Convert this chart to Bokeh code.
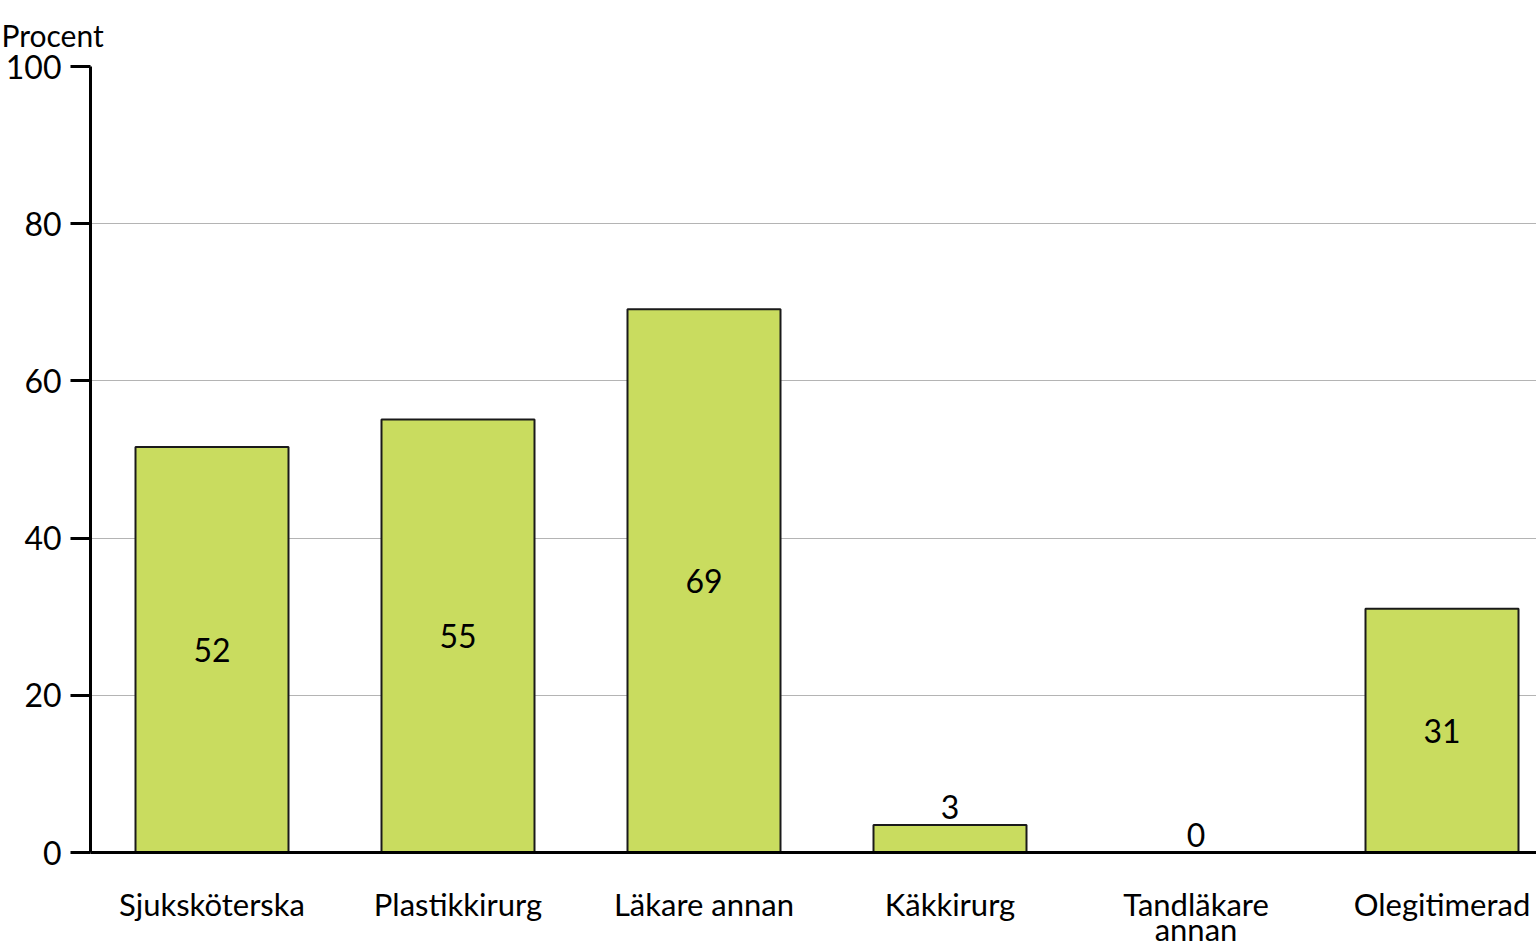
from bokeh.plotting import figure
from bokeh.models import ColumnDataSource, Range1d, FixedTicker
from bokeh.core.properties import value
from bokeh.embed import file_html
from bokeh.resources import INLINE

# data
categories = ["Sjuksköterska", "Plastikkirurg", "Läkare annan", "Käkkirurg",
              "Tandläkare\nannan", "Olegitimerad"]
values = [51.6, 55.1, 69.1, 3.5, 0.0, 31.0]
value_labels = ["52", "55", "69", "3", "0", "31"]
y_ticks = [0, 20, 40, 60, 80, 100]

FONT = "Lato"
BAR_COLOR = "#c9dc5f"

# category slots 0.5, 1.5, ... (the last slot is cut at the right edge)
xpos = [i + 0.5 for i in range(len(categories))]
source = ColumnDataSource(dict(x=xpos, val=values))

# labels: inside (mid-height) for big bars, above for small ones
big = [i for i, v in enumerate(values) if v >= 10]
small = [i for i, v in enumerate(values) if v < 10]
big_src = ColumnDataSource(dict(
    x=[xpos[i] for i in big],
    y=[values[i] / 2 for i in big],
    txt=[value_labels[i] for i in big],
))
small_src = ColumnDataSource(dict(
    x=[xpos[i] for i in small],
    y=[values[i] for i in small],
    txt=[value_labels[i] for i in small],
))

FRAME_W = 1446
SLOT = 246.0
X0 = 1.5 / SLOT

p = figure(
    x_range=Range1d(X0, X0 + FRAME_W / SLOT),
    y_range=Range1d(0, 100),
    frame_width=FRAME_W, frame_height=786,
    min_border_left=90, min_border_right=0,
    min_border_top=66, min_border_bottom=93,
    output_backend="svg", toolbar_location=None,
)
p.outline_line_color = None
p.background_fill_color = "white"

# "Procent" unit label via the title, pushed to the top-left corner
p.title.text = "Procent"
p.title.align = "left"
p.title.offset = -89
p.title.standoff = 28
p.title.text_font = FONT
p.title.text_font_size = "30px"
p.title.text_font_style = "normal"
p.title.text_color = "black"

p.vbar(x="x", top="val", width=153 / SLOT, source=source,
       fill_color=BAR_COLOR, line_color="#1a1a1a", line_width=2)

p.text(x="x", y="y", text="txt", source=big_src,
       text_align="center", text_baseline="middle",
       text_font=value(FONT), text_font_size="32px", text_color="black")
p.text(x="x", y="y", text="txt", source=small_src,
       text_align="center", text_baseline="bottom", y_offset=-6,
       text_font=value(FONT), text_font_size="32px", text_color="black")

# grid
p.xgrid.grid_line_color = None
p.ygrid.grid_line_color = "#b4b4b4"
p.ygrid.grid_line_width = 1

# y axis
p.yaxis.ticker = FixedTicker(ticks=y_ticks)
p.yaxis.axis_line_width = 3
p.yaxis.axis_line_color = "black"
p.yaxis.major_tick_out = 20
p.yaxis.major_tick_in = 0
p.yaxis.major_tick_line_width = 3
p.yaxis.minor_tick_line_color = None
p.yaxis.major_label_standoff = 9
p.yaxis.major_label_text_font = FONT
p.yaxis.major_label_text_font_size = "32px"
p.yaxis.major_label_text_color = "black"

# x axis: category names at slot centres
p.xaxis.ticker = FixedTicker(ticks=xpos)
p.xaxis.major_label_overrides = {x: c for x, c in zip(xpos, categories)}
p.xaxis.axis_line_width = 3
p.xaxis.axis_line_color = "black"
p.xaxis.major_tick_line_color = None
p.xaxis.minor_tick_line_color = None
p.xaxis.major_label_standoff = 26
p.xaxis.major_label_text_font = FONT
p.xaxis.major_label_text_font_size = "31px"
p.xaxis.major_label_text_color = "black"
p.xaxis.major_label_text_line_height = 0.66

open("out.html", "w").write(file_html(p, INLINE))
